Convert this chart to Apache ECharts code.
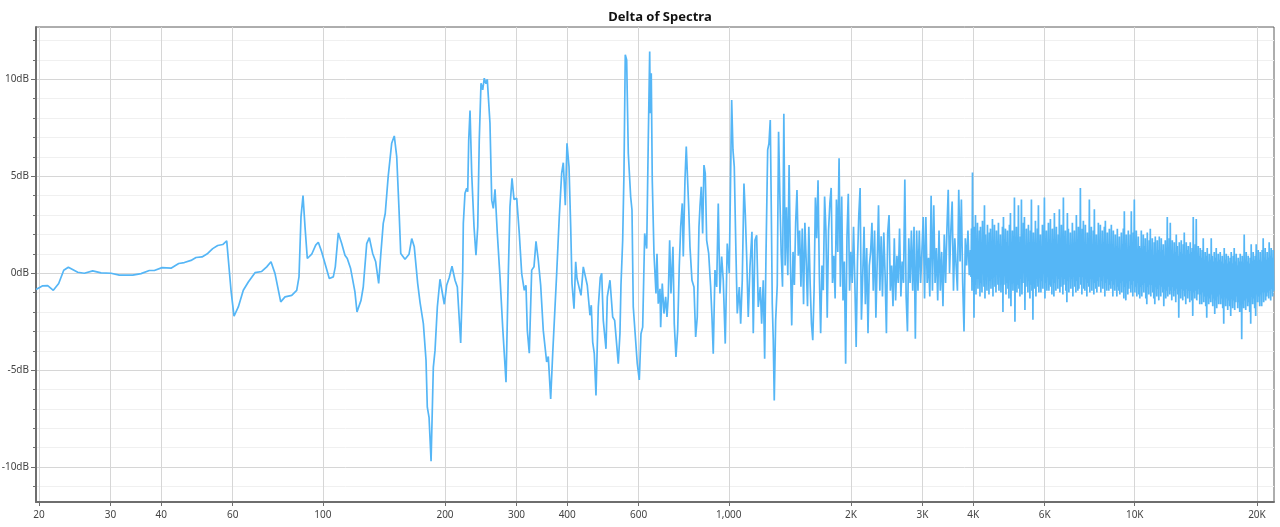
<!DOCTYPE html>
<html><head><meta charset="utf-8">
<script src="https://cdn.jsdelivr.net/npm/echarts@6/dist/echarts.min.js"></script>
<style>html,body{margin:0;padding:0;background:#fff}#c{width:1280px;height:527px}</style>
</head><body><div id="c"></div>
<script>
// Explicitly read points (frequency in Hz, delta in dB), 20 Hz .. 1.3 kHz
const freqLow = [19.66,20.42,21.01,21.69,22.36,23.01,23.62,24.91,25.86,27.12,28.43,30.09,31.54,34.03,35.67,37.39,38.46,40.18,42.28,44.17,45.60,47.36,48.72,50.41,52.07,53.56,55.10,56.69,57.99,58.42,59.42,60.44,61.93,63.71,65.55,68.08,70.72,72.76,74.55,76.27,78.77,80.72,83.84,86.25,87.38,88.38,89.39,90.41,91.60,93.91,96.06,97.49,99.39,101.26,103.76,106.14,107.35,109.2,111.32,113.4,114.9,117.1,120.0,121.4,124.2,125.8,128.3,130.2,132.7,135.0,137.3,138.8,140.9,142.5,144.9,147.8,150.0,152.1,154.1,155.6,159.4,163.1,165.6,168.0,171.3,173.6,176.9,179.6,180.9,182.7,184.8,187.2,189.0,191.5,194.4,196.3,199.2,201.9,204.9,208.1,211.7,214.5,218.6,221.1,221.9,224.0,226.2,227.5,228.8,230.5,232.7,235.8,238.4,240.8,242.9,245.3,247.7,249.9,252.4,254.2,258.1,260.7,263.0,265.6,269.1,273.2,277.4,282.7,286.4,289.1,292.5,295.8,300.4,304.8,309.0,313.6,316.6,319.0,322.6,327.0,331.3,335.1,339.5,344.1,349.2,356.0,359.3,364.2,368.4,371.7,376.8,382.4,387.6,391.2,395.7,399.5,404.1,408.0,411.0,415.7,419.7,422.8,427.6,432.5,438.2,443.1,448.2,455.1,458.5,462.2,466.4,470.9,477.1,482.5,486.4,490.8,498.4,502.1,509.8,517.7,523.5,534.4,539.5,542.6,547.9,551.9,556.0,560.4,565.6,573.3,577.6,581.8,587.5,595.2,602.0,607.8,613.7,620.7,627.8,633.5,638.6,640.7,644.3,648.0,654.3,661.8,665.6,670.4,677.0,679.6,685.8,692.5,699.1,704.4,709.5,715.2,720.5,728.7,734.1,741.2,748.4,755.2,761.3,768.2,772.6,780.0,785.8,792.1,796.6,802.5,811.6,820.9,828.8,836.4,844.5,849.3,855.6,862.4,868.8,875.2,882.2,892.3,902.4,909.1,915.8,924.7,933.7,942.2,951.3,960.5,969.3,980.3,991.5,1002.8,1016.6,1024.1,1031.7,1041.7,1049.4,1061.4,1069.8,1079.6,1090.0,1098.1,1106.9,1116.9,1127.8,1140.6,1149.1,1160.2,1171.4,1182.1,1195.6,1205.1,1216.1,1225.8,1234.9,1246.9,1256.1,1265.4,1272.6,1279.8,1287.1,1294.4,1304.7];
const dbLow = [-0.84,-0.65,-0.64,-0.88,-0.53,0.15,0.31,0.05,0.0,0.12,0.02,0.0,-0.1,-0.1,-0.02,0.14,0.14,0.29,0.26,0.5,0.55,0.66,0.81,0.84,1.02,1.27,1.43,1.48,1.67,1.72,-0.88,-2.22,-1.74,-0.88,-0.45,0.03,0.09,0.33,0.59,-0.02,-1.48,-1.22,-1.14,-0.88,-0.19,2.91,4.0,2.39,0.76,0.98,1.45,1.6,1.1,0.5,-0.27,-0.19,0.33,2.08,1.53,0.93,0.76,0.24,-0.96,-2.0,-1.4,-0.71,1.53,1.84,1.02,0.59,-0.53,0.84,2.57,3.08,4.98,6.7,7.08,6.01,3.26,1.02,0.72,0.98,1.79,1.36,-0.53,-1.5,-2.6,-4.5,-6.91,-7.43,-9.7,-4.84,-3.98,-1.74,-0.31,-0.36,-1.6,-0.62,-0.22,0.36,-0.36,-0.71,-3.6,-0.02,2.57,4.12,4.38,4.2,6.87,8.39,5.15,2.39,0.93,2.39,6.87,9.8,9.46,10.06,9.77,10.0,7.74,3.77,3.34,4.33,2.05,-0.19,-2.78,-5.62,-0.02,3.43,4.89,3.81,3.86,2.05,-0.02,-0.88,-0.62,-2.95,-4.12,0.16,0.33,1.65,0.67,-0.62,-2.95,-4.58,-4.3,-6.48,-4.15,-2.51,-0.02,2.91,5.15,5.7,3.51,6.7,5.49,2.39,-0.53,-1.83,0.59,-0.27,-0.2,-1.14,0.33,0.38,-0.62,-2.17,-1.65,-3.55,-4.15,-6.3,-1.74,-0.22,0.0,-2.43,-3.9,-1.22,-0.36,-2.26,-2.43,-4.67,-3.1,-0.62,1.7,5.15,11.27,11.0,6.19,3.94,3.26,-1.74,-1.65,-4.67,-5.5,-3.12,-2.78,2.05,1.27,6.87,11.44,8.25,10.32,4.8,1.02,-1.05,1.0,-1.57,-0.8,-2.78,-0.53,-2.08,-1.22,-2.26,-1.22,1.7,-1.05,1.36,-2.6,-4.32,-2.95,0.33,2.39,3.6,0.86,4.8,6.53,6.62,3.43,1.36,-0.36,-0.71,-3.29,-2.26,2.39,3.43,4.46,2.05,5.58,5.15,1.7,1.02,-0.71,-2.26,-4.15,0.16,-0.71,3.6,-1.05,0.86,-0.36,-3.63,1.53,0,8.94,6.36,5.5,1.0,-2.08,-0.71,-2.6,-0.36,4.63,3.08,0.86,-2.26,0.33,2.14,-3.1,1.7,1.96,-1.74,-0.71,-2.6,-0.36,-4.41,0.86,6.36,6.7,7.9,3.43,-1.57,-3.46,-6.56,-2.43];

// Evenly log-spaced samples, 1.32 kHz .. 3.91 kHz
const midBand = [1316.6, 3912];
const dbMid = [-0.6,7.3,3.9,1.0,-0.7,8.22,0.4,3.4,-0.1,5.58,
 0.6,-2.69,1.1,-0.6,2.6,4.29,0.9,2.2,-0.7,2.3,
 -1.6,2.6,0.6,-1.7,2.4,-0.5,-2.6,-3.45,-0.88,3.9,
 1.8,4.8,-0.1,-3.1,0.4,-0.88,3.96,2.2,-2.3,2.2,
 3.6,4.4,-0.5,0.9,-1.3,3.8,1.1,5.93,-0.7,3.96,
 -1.4,0.6,-4.67,1.8,4.1,-0.9,1.1,-0.5,2.4,-0.5,
 -3.8,0.6,3.0,4.4,-2.4,-0.1,2.4,-1.6,1.3,-3.1,
 0.4,1.1,2.6,-0.9,2.2,-2.3,0.6,3.5,-0.9,1.9,
 -1.2,2.1,-0.1,-3.1,2.1,3.0,-0.9,0.4,-1.7,1.8,
 -1.4,0.9,-0.5,2.3,-1.2,0.6,-0.5,4.84,-1.2,-3.0,
 1.8,-0.5,2.2,-0.9,2.4,-3.38,2.2,-0.9,2.2,-0.5,
 1.1,2.9,-1.3,2.9,-0.5,0.8,-1.2,4.0,-0.9,3.5,
 -0.5,1.3,-1.4,2.2,-0.9,1.1,-1.7,2.0,-0.5,2.2,
 4.3,0,2.2,3.7,-0.9,1.8,0.4,-0.9,4.3,0.6,
 3.8,-0.5,-3.0,1.8,0.4,2.2,-0.1];

// Evenly log-spaced samples (two per pixel), 3.94 kHz .. 22 kHz
const highBand = [3939, 21990];
const dbHigh = [
 1.2,-0.2,2.3,-0.9,5.2,0.1,1.4,-2.3,2.4,-0.6,3.0,-1.1,1.6,-0.3,2.6,-0.8,1.1,0.2,2.2,-1.2,
 2.4,-0.5,1.3,-1.0,2.7,0.0,1.5,-0.7,3.5,-1.3,2.0,-0.2,1.2,-0.9,2.5,0.3,1.6,-1.1,2.1,-0.4,
 2.3,-0.8,1.0,-0.3,2.8,-1.2,1.7,-0.1,2.5,-0.7,1.4,-1.0,2.2,0.1,1.3,-0.6,2.6,-0.9,1.5,-0.2,
 2.0,-1.0,1.2,-0.4,2.4,-2.0,2.9,-0.6,1.1,0.0,2.3,-1.1,1.6,-0.5,2.2,-0.8,1.0,-1.3,2.5,-0.3,
 3.1,-1.7,1.4,-0.2,2.2,-0.9,1.2,-0.5,3.9,-2.5,1.7,0.1,2.4,-1.0,1.3,-0.6,3.5,-0.8,1.5,-1.2,
 1.9,-0.3,3.8,-1.1,1.2,-0.5,2.6,0.0,2.9,-1.9,1.4,-0.7,2.3,-0.2,1.1,-1.0,2.5,-0.4,1.6,-1.3,
 2.2,-0.6,3.8,-0.9,1.3,-2.4,2.1,-0.1,1.5,-0.8,2.7,-1.2,1.2,-0.3,2.3,-0.7,3.5,-1.0,1.4,-0.2,
 2.0,-1.0,1.3,-0.4,2.5,-0.8,1.7,0.0,3.9,-1.3,1.2,-0.5,2.2,-0.9,1.5,-0.2,2.6,-0.9,1.1,-0.6,
 2.8,-0.7,1.4,-1.1,2.3,-0.1,1.6,-1.2,3.1,-0.5,1.1,-0.9,2.4,0.1,1.3,-0.8,2.0,-0.3,3.3,-1.0,
 1.5,-0.7,2.5,-0.2,1.2,-1.1,3.9,-0.6,1.6,-0.3,2.2,-0.9,1.0,-1.5,3.1,-0.4,2.3,-1.0,1.4,-0.1,
 2.1,-0.8,1.3,-0.3,2.6,-1.2,1.5,0.0,2.2,-0.7,1.1,-1.0,3.0,-0.4,1.7,-0.9,2.4,-0.8,1.2,-0.2,
 4.4,-0.6,1.5,-1.1,2.3,-0.2,2.7,-0.8,1.2,-0.9,2.5,-0.3,1.4,-1.2,2.1,-0.5,1.3,-0.7,3.8,-1.0,
 1.6,-0.3,2.4,-0.9,1.1,-0.2,2.2,-1.1,3.3,-0.5,1.5,-0.8,2.0,-1.0,1.2,-0.4,2.6,-0.7,1.4,-0.2,
 2.5,-1.0,1.3,-0.4,2.2,-0.8,1.6,-0.1,2.4,-1.2,2.7,-0.5,1.2,-0.9,2.1,-0.3,1.5,-0.9,2.3,-0.6,
 1.3,-0.8,2.5,-0.4,1.5,-1.2,2.2,-0.6,1.1,-0.9,2.0,-0.3,1.4,-1.2,2.3,-0.7,1.0,-0.9,1.9,-1.1,
 1.2,-0.5,2.1,-1.0,1.5,-0.4,2.3,-1.3,3.2,-0.7,1.3,-1.4,2.0,-0.5,1.1,-1.1,2.2,-0.8,1.4,-0.4,
 2.0,-1.0,3.2,-0.6,1.2,-1.2,2.1,-0.4,3.8,-1.0,1.3,-0.7,2.2,-1.2,1.0,-0.5,1.9,-1.1,1.4,-1.3,
 1.3,-0.7,2.2,-1.2,1.0,-0.6,2.0,-1.0,1.4,-0.5,1.8,-1.3,1.1,-1.6,2.1,-0.7,1.2,-1.1,1.7,-0.6,
 2.3,-1.2,1.1,-0.6,1.8,-1.0,0.9,-1.3,1.6,-1.6,1.9,-0.7,1.0,-1.2,1.7,-0.8,1.2,-1.4,1.9,-0.6,
 1.0,-1.2,1.8,-0.7,1.2,-1.0,1.5,-1.7,0.9,-0.8,1.7,-1.3,1.1,-0.9,2.9,-1.2,1.3,-0.7,1.8,-1.1,
 2.6,-0.9,1.2,-1.4,1.7,-0.7,1.0,-1.2,1.6,-0.9,1.1,-1.5,2.0,-0.8,1.4,-1.1,0.9,-2.3,1.6,-0.8,
 1.1,-1.3,1.7,-0.8,1.0,-1.4,1.5,-0.9,2.1,-1.2,0.9,-1.6,1.6,-0.8,1.2,-1.3,1.4,-0.9,1.0,-1.5,
 1.6,-0.9,1.1,-1.4,1.3,-2.2,2.9,-1.0,0.8,-1.3,1.5,-0.9,2.8,-1.4,1.0,-1.1,1.4,-0.8,0.9,-1.6,
 1.3,-1.1,0.8,-1.6,1.2,-1.0,1.8,-1.5,0.7,-1.2,1.1,-1.7,0.9,-2.3,1.3,-1.2,0.6,-1.6,1.0,-1.3,
 0.7,-1.5,1.8,-1.1,0.9,-1.7,0.6,-1.3,1.1,-2.1,0.8,-1.4,1.3,-1.8,0.6,-1.2,1.0,-1.6,0.7,-1.1,
 1.1,-1.6,0.6,-1.3,0.9,-1.8,0.5,-2.6,1.3,-1.2,0.7,-1.7,1.0,-1.3,0.5,-1.9,0.9,-1.4,0.6,-1.7,
 0.8,-2.2,1.1,-1.3,0.5,-1.8,0.9,-1.4,1.3,-1.9,0.6,-1.5,1.0,-1.2,0.4,-1.8,0.8,-1.5,0.6,-2.0,
 1.0,-1.4,0.6,-3.4,0.9,-1.3,0.5,-1.8,2.0,-1.4,0.7,-1.9,1.1,-1.3,0.6,-1.7,0.9,-1.5,0.5,-2.0,
 0.8,-2.6,1.5,-1.2,0.6,-1.6,1.1,-1.3,0.7,-1.8,0.9,-2.2,1.5,-1.1,0.6,-1.5,1.2,-1.2,0.7,-1.7,
 1.1,-1.1,0.6,-1.7,1.2,-1.0,1.8,-1.5,0.8,-1.0,1.3,-1.4,0.7,-1.2,1.1,-1.0,0.8,-1.3,1.6,-0.9,
 0.9,-1.4,1.3,-0.8,0.8,-1.2,1.2,-0.9];

const xTickFreqs = [20,30,40,60,100,200,300,400,600,1000,2000,3000,4000,6000,10000,20000];
const xTickLabels = ['20','30','40','60','100','200','300','400','600','1,000','2K','3K','4K','6K','10K','20K'];
const yTickValues = [-10,-5,0,5,10];
const yMinorValues = [-11,-9,-8,-7,-6,-4,-3,-2,-1,1,2,3,4,6,7,8,9,11,12];
const xRange = [19.66, 22030];
const yRange = [-11.8, 12.7];
const titleText = 'Delta of Spectra';

function band(range, vals) {
  const n = vals.length;
  return vals.map((v, i) => [range[0] * Math.pow(range[1] / range[0], i / (n - 1)), v]);
}
const points = freqLow.map((f, i) => [f, dbLow[i]]).concat(band(midBand, dbMid), band(highBand, dbHigh));
const tickLogs = xTickFreqs.map(f => Math.log10(f));
function labelFor(v) {
  let best = 0, bd = Infinity;
  tickLogs.forEach((t, i) => { const d = Math.abs(t - v); if (d < bd) { bd = d; best = i; } });
  return xTickLabels[best];
}

const FONT = 'Noto Sans';
const chart = echarts.init(document.getElementById('c'), null, {renderer: 'canvas'});
chart.setOption({
  animation: false,
  backgroundColor: '#ffffff',
  title: {
    text: titleText, left: 655, top: 6, textAlign: 'center',
    textStyle: {fontSize: 13, fontWeight: 'bold', color: '#111', fontFamily: FONT}
  },
  grid: {left: 36, right: 6, top: 27, bottom: 25, show: true, borderColor: '#5c5c5c', borderWidth: 1,
         containLabel: false, outerBoundsMode: 'none'},
  xAxis: [
    {
      type: 'log', min: xRange[0], max: xRange[1],
      axisLine: {show: true, onZero: false, lineStyle: {color: '#6e6e6e', width: 2}},
      axisTick: {show: false}, axisLabel: {show: false}, splitLine: {show: false}, minorTick: {show: false}
    },
    {
      type: 'value', position: 'bottom', min: Math.log10(xRange[0]), max: Math.log10(xRange[1]),
      axisLine: {show: false, onZero: false},
      axisTick: {show: true, customValues: tickLogs, length: 4, lineStyle: {color: '#6e6e6e'}},
      axisLabel: {customValues: tickLogs, formatter: v => labelFor(v), color: '#444', fontSize: 10, margin: 8, fontFamily: FONT},
      splitLine: {show: true, lineStyle: {color: '#d6d6d6', width: 1}}
    }
  ],
  yAxis: [
    {
      type: 'value', min: yRange[0], max: yRange[1], z: 1,
      axisLine: {show: true, onZero: false, lineStyle: {color: '#6e6e6e', width: 2}},
      axisTick: {show: true, customValues: yTickValues, length: 5, lineStyle: {color: '#6e6e6e'}},
      axisLabel: {customValues: yTickValues, formatter: '{value}dB', color: '#444', fontSize: 10, margin: 7, fontFamily: FONT},
      splitLine: {show: true, lineStyle: {color: '#d6d6d6', width: 1}}
    },
    {
      type: 'value', position: 'left', min: yRange[0], max: yRange[1], z: 0,
      axisLine: {show: false, onZero: false},
      axisTick: {show: true, customValues: yMinorValues, length: 3, lineStyle: {color: '#6e6e6e'}},
      axisLabel: {show: false},
      splitLine: {show: true, lineStyle: {color: '#f0f0f0', width: 1}}
    }
  ],
  series: [{
    type: 'line', name: 'Delta', data: points, xAxisIndex: 0, yAxisIndex: 0,
    showSymbol: false, symbol: 'none', z: 3,
    lineStyle: {color: '#55b6f6', width: 1.7}
  }]
});
</script>
</body></html>
